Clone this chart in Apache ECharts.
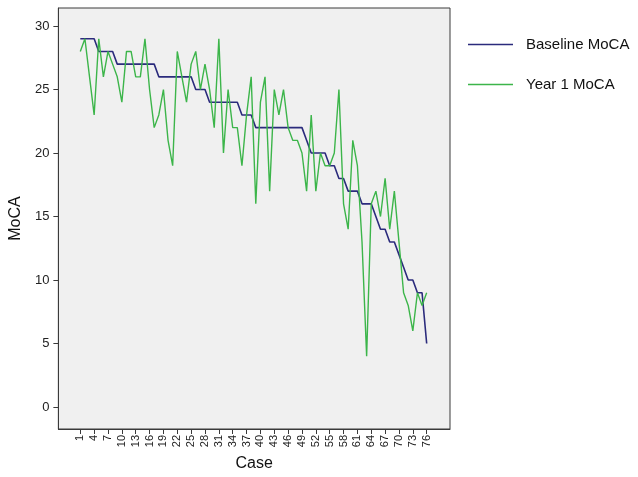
<!DOCTYPE html>
<html>
<head>
    <meta charset="utf-8">
    <title>MoCA by case</title>
    <script src="https://cdn.jsdelivr.net/npm/echarts@6/dist/echarts.min.js"></script>
    <style>
        html, body { margin: 0; padding: 0; background: #fff; }
    </style>
</head>
<body>
<div id="main" style="width: 638px;height:477px;"></div>
<script type="text/javascript">
    // case numbers 1..76
    var cases = [];
    for (var i = 1; i <= 76; i++) {
        cases.push(i);
    }
    // x tick labels every 3rd case
    var caseTicks = [1, 4, 7, 10, 13, 16, 19, 22, 25, 28, 31, 34, 37, 40, 43, 46, 49, 52, 55, 58, 61, 64, 67, 70, 73, 76];
    var moCATicks = [0, 5, 10, 15, 20, 25, 30];

    var baselineMoCA = [29, 29, 29, 29, 28, 28, 28, 28, 27, 27,
        27, 27, 27, 27, 27, 27, 27, 26, 26, 26,
        26, 26, 26, 26, 26, 25, 25, 25, 24, 24,
        24, 24, 24, 24, 24, 23, 23, 23, 22, 22,
        22, 22, 22, 22, 22, 22, 22, 22, 22, 21,
        20, 20, 20, 20, 19, 19, 18, 18, 17, 17,
        17, 16, 16, 16, 15, 14, 14, 13, 13, 12,
        11, 10, 10, 9, 9, 5];

    var year1MoCA = [28, 29, 26, 23, 29, 26, 28, 27, 26, 24,
        28, 28, 26, 26, 29, 25, 22, 23, 25, 21,
        19, 28, 26, 24, 27, 28, 25, 27, 25, 22,
        29, 20, 25, 22, 22, 19, 23, 26, 16, 24,
        26, 17, 25, 23, 25, 22, 21, 21, 20, 17,
        23, 17, 20, 19, 19, 20, 25, 16, 14, 21,
        19, 13, 4, 16, 17, 15, 18, 14, 17, 13,
        9, 8, 6, 9, 8, 9];

    function pairs(vals) {
        return cases.map(function (c, i) { return [c, vals[i]]; });
    }

    var myChart = echarts.init(document.getElementById('main'));
    var axisColor = '#3a3a3a';
    // plain line as legend symbol
    var lineIcon = 'path://M0,0 L45,0 L45,1.5 L0,1.5 Z';
    var option = {
        animation: false,
        backgroundColor: '#ffffff',
        textStyle: { fontFamily: 'Liberation Sans, Arial, sans-serif' },
        grid: {
            left: 52, right: 188, top: 8, bottom: 44,
            show: true,
            backgroundColor: '#f0f0f0',
            borderColor: axisColor,
            borderWidth: 1
        },
        legend: {
            orient: 'vertical',
            left: 468,
            top: 37,
            padding: 0,
            itemWidth: 45,
            itemHeight: 2,
            itemGap: 25,
            textStyle: { fontSize: 15, color: '#111', padding: [0, 0, 0, 8] },
            data: [
                { name: 'Baseline MoCA', icon: lineIcon },
                { name: 'Year 1 MoCA', icon: lineIcon }
            ]
        },
        xAxis: {
            type: 'value',
            min: -3.75,
            max: 81.05,
            name: 'Case',
            nameLocation: 'middle',
            nameGap: 27,
            nameTextStyle: { fontSize: 16, color: '#111' },
            axisLine: { show: true, onZero: false, lineStyle: { color: axisColor } },
            axisTick: { show: true, length: 5, lineStyle: { color: axisColor }, customValues: caseTicks },
            axisLabel: { rotate: 90, fontSize: 11, color: '#222', margin: 6, customValues: caseTicks },
            splitLine: { show: false }
        },
        yAxis: {
            type: 'value',
            min: -1.73,
            max: 31.42,
            name: 'MoCA',
            nameLocation: 'middle',
            nameGap: 34,
            nameTextStyle: { fontSize: 16, color: '#111' },
            axisLine: { show: true, onZero: false, lineStyle: { color: axisColor } },
            axisTick: { show: true, length: 5, lineStyle: { color: axisColor }, customValues: moCATicks },
            axisLabel: { fontSize: 13, color: '#222', margin: 9, customValues: moCATicks },
            splitLine: { show: false }
        },
        series: [{
            name: 'Baseline MoCA',
            type: 'line',
            symbol: 'none',
            itemStyle: { color: '#2b2b7c' },
            lineStyle: { color: '#2b2b7c', width: 1.6 },
            data: pairs(baselineMoCA)
        }, {
            name: 'Year 1 MoCA',
            type: 'line',
            symbol: 'none',
            itemStyle: { color: '#3cb54a' },
            lineStyle: { color: '#3cb54a', width: 1.4 },
            data: pairs(year1MoCA)
        }]
    };
    myChart.setOption(option);
</script>
</body>
</html>
